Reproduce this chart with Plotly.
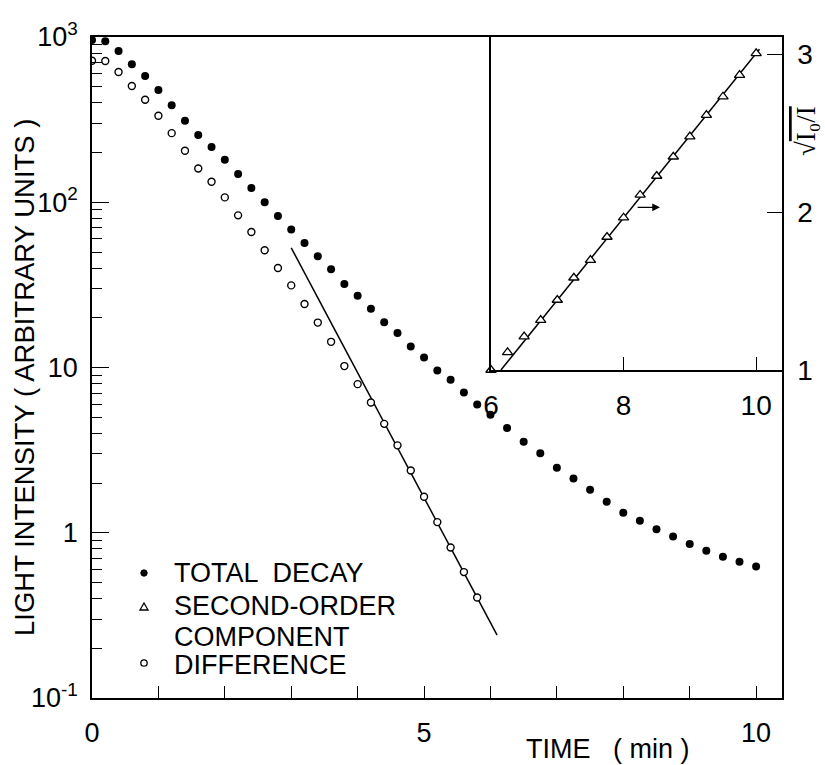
import plotly.graph_objects as go

# ---------------- data ----------------
total_t = [0.0, 0.2, 0.4, 0.6, 0.8, 1.0, 1.2, 1.4, 1.6, 1.8, 2.0, 2.2, 2.4, 2.6, 2.8, 3.0,
           3.2, 3.4, 3.6, 3.8, 4.0, 4.2, 4.4, 4.6, 4.8, 5.0, 5.2, 5.4, 5.6, 5.8, 6.0,
           6.25, 6.5, 6.75, 7.0, 7.25, 7.5, 7.75, 8.0, 8.25, 8.5, 8.75, 9.0, 9.25, 9.5, 9.75, 10.0]
total_I = [959, 942, 822, 685, 580, 477, 387, 311, 255, 216, 181, 148, 122, 100, 82.6, 68.4,
           56.6, 47.1, 39.3, 32.0, 27.2, 22.7, 18.8, 16.2, 13.4, 11.5, 9.6, 8.42, 7.05, 5.97, 5.17,
           4.31, 3.55, 3.03, 2.47, 2.13, 1.82, 1.54, 1.32, 1.18, 1.05, 0.95, 0.855, 0.778, 0.716, 0.667, 0.625]

diff_t = [0.0, 0.2, 0.4, 0.6, 0.8, 1.0, 1.2, 1.4, 1.6, 1.8, 2.0, 2.2, 2.4, 2.6, 2.8, 3.0,
          3.2, 3.4, 3.6, 3.8, 4.0, 4.2, 4.4, 4.6, 4.8, 5.0, 5.2, 5.4, 5.6, 5.8]
diff_I = [718, 716, 614, 505, 417, 334, 262, 205, 160, 133, 107, 83.3, 66.1, 51.2, 40.0, 31.4,
          24.2, 18.7, 14.3, 10.2, 7.93, 6.14, 4.56, 3.38, 2.38, 1.65, 1.16, 0.815, 0.578, 0.406]

fit_main_t = [3.0, 6.1]
fit_main_I = [53.0, 0.24]

second_t = [6.0, 6.25, 6.5, 6.75, 7.0, 7.25, 7.5, 7.75, 8.0, 8.25, 8.5, 8.75, 9.0, 9.25, 9.5, 9.75, 10.0]
second_sqrt = [1.0, 1.112, 1.211, 1.316, 1.443, 1.584, 1.696, 1.842, 1.964, 2.108, 2.228, 2.350,
               2.477, 2.614, 2.730, 2.867, 3.004]

fit_inset_t = [6.15, 10.05]
fit_inset_y = [1.0, 3.03]

main_x_ticks = [0, 1, 2, 3, 4, 5, 6, 7, 8, 9, 10]
main_x_labels = ["0", " ", " ", " ", " ", "5", " ", " ", " ", " ", "10"]
main_y_ticks = [0.1, 1, 10, 100, 1000]
main_y_labels = ["10<sup>-1</sup>", "1", "10", "10<sup>2</sup>", "10<sup>3</sup>"]
inset_x_ticks = [6, 8, 10]
inset_y_ticks = [1, 2, 3]

legend_labels = ["TOTAL  DECAY", "SECOND-ORDER", "COMPONENT", "DIFFERENCE"]

# ---------------- layout geometry (pixels) ----------------
W, H = 825, 765
L, R, T, B = 92, 43, 37, 67
PW, PH = W - L - R, H - T - B


def px(x):
    return (x - L) / PW


def py(y):
    return (H - B - y) / PH


FONT = "Liberation Sans"
BLACK = "black"

fig = go.Figure()

fig.add_trace(go.Scatter(x=fit_main_t, y=fit_main_I, mode="lines",
                         line=dict(color=BLACK, width=1.5), showlegend=False,
                         xaxis="x", yaxis="y"))
fig.add_trace(go.Scatter(x=total_t, y=total_I, mode="markers", name="TOTAL DECAY",
                         marker=dict(symbol="circle", size=8, color=BLACK),
                         showlegend=False, xaxis="x", yaxis="y"))
fig.add_trace(go.Scatter(x=diff_t, y=diff_I, mode="markers", name="DIFFERENCE",
                         marker=dict(symbol="circle", size=7, color="white",
                                     line=dict(color=BLACK, width=1.4)),
                         showlegend=False, xaxis="x", yaxis="y"))

fig.add_trace(go.Scatter(x=fit_inset_t, y=fit_inset_y, mode="lines",
                         line=dict(color=BLACK, width=1.5), showlegend=False,
                         xaxis="x2", yaxis="y2"))
fig.add_trace(go.Scatter(x=second_t, y=second_sqrt, mode="markers", name="SECOND-ORDER COMPONENT",
                         marker=dict(symbol="triangle-up", size=9, color="white",
                                     line=dict(color=BLACK, width=1.3)),
                         showlegend=False, xaxis="x2", yaxis="y2", cliponaxis=False))

axis_common = dict(showline=True, linecolor=BLACK, linewidth=1.5, showgrid=False,
                   zeroline=False, ticks="inside", tickcolor=BLACK, tickwidth=1.3,
                   tickfont=dict(family=FONT, size=27, color=BLACK))

fig.update_layout(
    width=W, height=H,
    margin=dict(l=L, r=R, t=T, b=B, pad=0),
    paper_bgcolor="white", plot_bgcolor="rgba(0,0,0,0)",
    showlegend=False,
    xaxis=dict(axis_common, domain=[0, 1], range=[0, 10.39], mirror=True,
               tickmode="array", tickvals=main_x_ticks, ticktext=main_x_labels,
               ticklen=12, ticklabelstandoff=10),
    yaxis=dict(axis_common, domain=[0, 1], type="log", range=[-1, 3], mirror=True,
               tickmode="array", tickvals=main_y_ticks, ticktext=main_y_labels,
               ticklen=17, ticklabelstandoff=7,
               minor=dict(ticks="inside", ticklen=10, tickcolor=BLACK, tickwidth=1.2,
                          tickvals=[m * 10 ** k for k in range(-1, 3) for m in range(2, 10)])),
    xaxis2=dict(axis_common, domain=[px(491), 1], range=[6, 10.39], anchor="y2", mirror=True,
                tickmode="array", tickvals=inset_x_ticks, ticklen=13, ticklabelstandoff=10,
                tickfont=dict(family=FONT, size=28, color=BLACK)),
    yaxis2=dict(axis_common, domain=[py(370), 1], range=[1, 3.108], anchor="x2", side="right",
                mirror=True, tickmode="array", tickvals=inset_y_ticks, ticklen=15,
                ticklabelstandoff=8,
                tickfont=dict(family=FONT, size=28, color=BLACK)),
)

annotations = [
    dict(x=px(25), y=py(377), xref="paper", yref="paper", text="LIGHT INTENSITY ( ARBITRARY UNITS )",
         textangle=-90, showarrow=False, font=dict(family=FONT, size=27.5, color=BLACK),
         xanchor="center", yanchor="middle"),
    dict(x=px(608), y=py(749), xref="paper", yref="paper", text="TIME   ( min )",
         showarrow=False, font=dict(family=FONT, size=27, color=BLACK),
         xanchor="center", yanchor="middle"),
    dict(x=px(806), y=py(131), xref="paper", yref="paper",
         text="√<span style='text-decoration:overline'>I₀/I</span>",
         textangle=-90, showarrow=False, font=dict(family="Liberation Serif", size=27, color=BLACK),
         xanchor="center", yanchor="middle"),
    dict(x=8.55, y=2.03, ax=8.19, ay=2.03, xref="x2", yref="y2", axref="x2", ayref="y2",
         text="", showarrow=True, arrowhead=2, arrowsize=1.2, arrowwidth=1.3, arrowcolor=BLACK),
]
legend_y = [573, 606, 637, 665]
for lab, yy in zip(legend_labels, legend_y):
    annotations.append(dict(x=px(172), y=py(yy), xref="paper", yref="paper", text=lab,
                            showarrow=False, font=dict(family=FONT, size=27, color=BLACK),
                            xanchor="left", yanchor="middle"))
fig.update_layout(annotations=annotations)

# legend keys (decorative)
shapes = []
r = 3.2
shapes.append(dict(type="circle", xref="paper", yref="paper",
                   x0=px(144 - r), x1=px(144 + r), y0=py(573 + r), y1=py(573 - r),
                   fillcolor=BLACK, line=dict(color=BLACK, width=1)))
shapes.append(dict(type="circle", xref="paper", yref="paper",
                   x0=px(144 - r), x1=px(144 + r), y0=py(663 + r), y1=py(663 - r),
                   fillcolor="white", line=dict(color=BLACK, width=1.3)))
tri = "M {:.5f},{:.5f} L {:.5f},{:.5f} L {:.5f},{:.5f} Z".format(
    px(140), py(610), px(148), py(610), px(144), py(603))
shapes.append(dict(type="path", xref="paper", yref="paper", path=tri,
                   fillcolor="white", line=dict(color=BLACK, width=1.3)))
fig.update_layout(shapes=shapes)

fig.write_html("out.html")
